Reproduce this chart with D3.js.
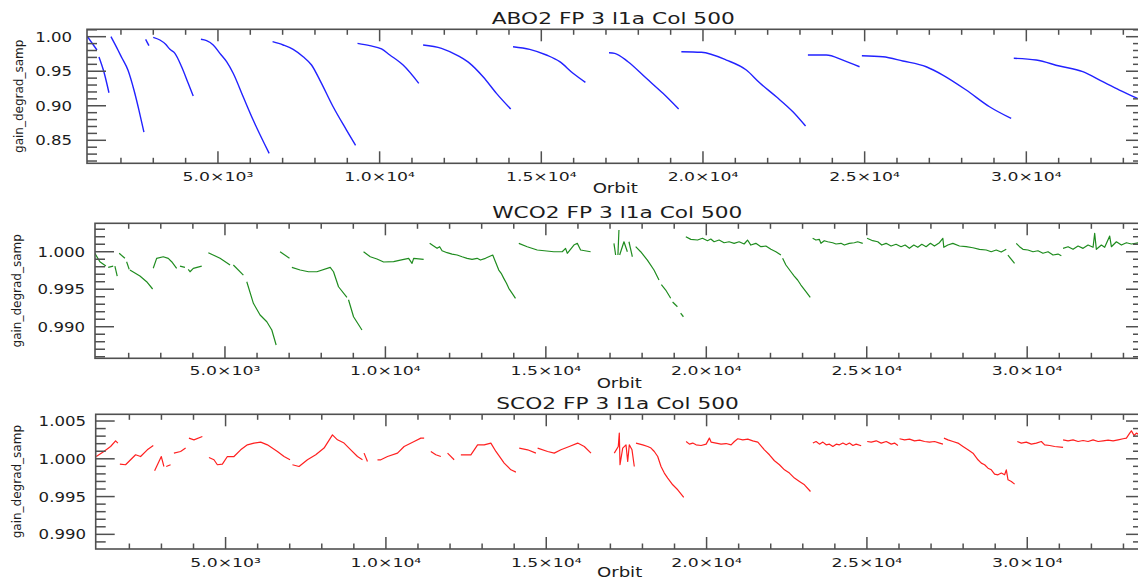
<!DOCTYPE html>
<html>
<head>
<meta charset="utf-8">
<script src="https://cdn.jsdelivr.net/npm/d3@7"></script>
<style>
  html, body { margin: 0; padding: 0; background: #fff; }
  svg { display: block; }
  text { font-family: "DejaVu Sans", sans-serif; fill: #1c1c1c; }
</style>
</head>
<body>
<svg id="chart" width="1138" height="580"></svg>
<script>
// ---- shared orbit axis ----
const orbitDomain = [950, 33500];
const orbitMajorTicks = [5000, 10000, 15000, 20000, 25000, 30000];
const orbitTickLabels = ["5.0×10³", "1.0×10⁴", "1.5×10⁴", "2.0×10⁴", "2.5×10⁴", "3.0×10⁴"];
const orbitMinorTicks = [2000, 3000, 4000, 6000, 7000, 8000, 9000, 11000, 12000, 13000, 14000,
  16000, 17000, 18000, 19000, 21000, 22000, 23000, 24000, 26000, 27000, 28000, 29000,
  31000, 32000, 33000];

const xTitle = "Orbit";
const yTitle = "gain_degrad_samp";

// ---- ABO2 band: each inner array is one continuous run of [orbit, gain] ----
const abo2Segments = [
  [[949, 1.001], [1258, 0.9807]],
  [[1320, 0.9706], [1474, 0.9488], [1629, 0.9188]],
  [[1691, 1.000], [1907, 0.9807], [2031, 0.9691], [2216, 0.9517], [2402, 0.9228], [2556, 0.8938], [2711, 0.8619]],
  [[2763, 0.9962], [2865, 0.987]],
  [[2998, 0.9991], [3205, 0.9952], [3382, 0.989], [3515, 0.9817], [3669, 0.9759], [3876, 0.9565], [4080, 0.9325], [4235, 0.9141]],
  [[4473, 0.9962], [4649, 0.9942], [4853, 0.988], [5060, 0.9759], [5267, 0.9638], [5471, 0.947], [5780, 0.913], [6089, 0.8793], [6584, 0.831]],
  [[6689, 0.9928], [7017, 0.988], [7326, 0.9817], [7635, 0.971], [7894, 0.959], [8151, 0.9372], [8562, 0.8986], [8976, 0.8648], [9254, 0.8428]],
  [[9316, 0.9904], [9696, 0.987], [10058, 0.9822], [10315, 0.9735], [10726, 0.959], [11211, 0.9325]],
  [[11344, 0.988], [11913, 0.9832], [12478, 0.971], [12788, 0.9614], [13199, 0.942], [13613, 0.918], [14055, 0.8952]],
  [[14126, 0.9855], [14642, 0.9817], [15158, 0.9735], [15569, 0.9638], [15981, 0.947], [16364, 0.9339]],
  [[17093, 0.9768], [17269, 0.9759], [17681, 0.9638], [18249, 0.9397], [18762, 0.918], [19248, 0.8952]],
  [[19331, 0.9783], [19949, 0.9774], [20722, 0.9662], [21340, 0.9517], [21751, 0.9333], [22268, 0.913], [22781, 0.8913], [23173, 0.8706]],
  [[23245, 0.9735], [23813, 0.9735], [24327, 0.9662], [24842, 0.9565]],
  [[24914, 0.9725], [25563, 0.971], [26181, 0.9648], [26904, 0.9565], [27417, 0.9445], [28141, 0.9228], [28861, 0.8986], [29531, 0.8817]],
  [[29612, 0.9687], [30304, 0.9662], [31024, 0.9575], [31745, 0.9493], [32363, 0.9348], [32879, 0.9228], [33436, 0.9107]]
];

// ---- WCO2 band ----
const wco2Segments = [
  [[946, 0.99979], [1102, 0.99867], [1289, 0.99809]],
  [[1361, 0.99792], [1517, 0.99809]],
  [[1570, 0.99809], [1642, 0.99676]],
  [[1704, 0.99979], [1882, 0.99912]],
  [[1935, 0.99867], [2016, 0.99765]],
  [[2038, 0.99756], [2350, 0.99676], [2559, 0.996], [2746, 0.99503]],
  [[2765, 0.99779], [2871, 0.99912], [3077, 0.99933], [3233, 0.99912], [3339, 0.99867], [3495, 0.99779]],
  [[3598, 0.99809], [3754, 0.99792]],
  [[3857, 0.99765], [3911, 0.99733], [4014, 0.99779], [4276, 0.99809]],
  [[4482, 0.99987], [4847, 0.99912], [5159, 0.99823]],
  [[5262, 0.99823], [5574, 0.99689]],
  [[5680, 0.996], [5886, 0.99312], [6095, 0.99156], [6304, 0.99067], [6460, 0.98956], [6595, 0.98756]],
  [[6719, 1.0], [7010, 0.99912]],
  [[7085, 0.99792], [7344, 0.99756], [7603, 0.99733], [7865, 0.99733], [8280, 0.99792], [8383, 0.99733], [8539, 0.99533], [8801, 0.99392]],
  [[8850, 0.9936], [9007, 0.99133], [9269, 0.98956]],
  [[9319, 1.0], [9528, 0.99933], [9737, 0.99903], [9944, 0.99863], [10256, 0.99867], [10465, 0.99889], [10724, 0.99912], [10830, 0.99845], [10880, 0.99912], [11192, 0.99899]],
  [[11379, 1.00112], [11504, 1.00076], [11610, 1.00045], [11691, 1.00067], [11766, 1.00013], [11922, 0.99987], [12078, 0.99969], [12234, 0.99956], [12390, 0.99933], [12546, 0.99912], [12702, 0.99899], [12858, 0.99912], [12961, 0.99889], [13117, 0.99912], [13273, 0.99943], [13345, 0.99956], [13429, 0.99867], [13533, 0.99756], [13608, 0.99712], [13689, 0.99645], [13773, 0.99579], [13845, 0.99512], [13951, 0.99445], [14054, 0.99379]],
  [[14157, 1.00112], [14419, 1.00067], [14731, 1.00023], [15249, 1.0], [15511, 1.0], [15614, 1.00045], [15668, 0.99979], [15874, 1.00089], [15980, 1.00112], [16083, 1.00023], [16395, 1.0]],
  [[17122, 1.00112], [17175, 0.99956]],
  [[17246, 0.99956], [17278, 1.00289]],
  [[17300, 0.99956], [17434, 1.00133], [17540, 1.0]],
  [[17590, 1.00133], [17696, 0.99933]],
  [[17799, 1.00067], [17955, 1.0], [18164, 0.99889], [18370, 0.99756], [18526, 0.99623]],
  [[18600, 0.9956], [18735, 0.99489], [18891, 0.99379]],
  [[18950, 0.9933], [19100, 0.99267]],
  [[19200, 0.9918], [19288, 0.99133]],
  [[19362, 1.002], [19518, 1.00165], [19727, 1.00156], [19881, 1.00179], [20037, 1.00147], [20140, 1.00169], [20243, 1.00133], [20399, 1.00156], [20555, 1.0012], [20711, 1.00133], [20867, 1.00112], [21023, 1.00133], [21179, 1.00103], [21285, 1.00156], [21388, 1.00089], [21544, 1.00112], [21701, 1.00067], [21857, 1.00076], [22013, 1.00032], [22169, 1.0], [22325, 0.99956]],
  [[22378, 0.99912], [22481, 0.99823], [22637, 0.99733], [22740, 0.99676], [22846, 0.99623], [22949, 0.99556], [23105, 0.99467], [23240, 0.99392]],
  [[23314, 1.00179], [23416, 1.00156], [23520, 1.00165], [23573, 1.00112], [23676, 1.00147], [23783, 1.00133], [23938, 1.0012], [24042, 1.00103], [24198, 1.00112], [24301, 1.00089], [24456, 1.00112], [24613, 1.0012], [24718, 1.00133], [24875, 1.00112]],
  [[25009, 1.00179], [25186, 1.00147], [25343, 1.00133], [25468, 1.00089], [25602, 1.00112], [25758, 1.00076], [25914, 1.00099], [26070, 1.00067], [26195, 1.00089], [26329, 1.00045], [26467, 1.00089], [26591, 1.00059], [26716, 1.00099], [26850, 1.00067], [26984, 1.00112], [27109, 1.00076], [27265, 1.0012], [27371, 1.00179], [27402, 1.00059], [27527, 1.00089], [27683, 1.00112], [27889, 1.00076], [28098, 1.00067], [28308, 1.00053], [28514, 1.00032], [28723, 1.00023], [28879, 1.0], [29035, 1.00023], [29191, 0.99996], [29347, 1.00032]],
  [[29400, 0.99956], [29606, 0.99845]],
  [[29659, 1.00112], [29762, 1.00067], [29868, 1.00032], [30024, 1.00023], [30180, 1.0], [30336, 1.00013], [30492, 0.99979], [30649, 1.0], [30805, 0.99956], [30961, 0.99969], [31064, 0.99947]],
  [[31117, 1.00045], [31273, 1.00067], [31429, 1.00032], [31585, 1.00076], [31741, 1.00045], [31897, 1.00089], [32053, 1.00059], [32103, 1.00245], [32156, 1.00032], [32312, 1.00089], [32415, 1.00059], [32571, 1.00209], [32624, 1.00067], [32780, 1.00133], [32936, 1.00089], [33092, 1.0012], [33248, 1.00103], [33498, 1.0012]]
];

// ---- SCO2 band ----
const sco2Segments = [
  [[968, 1.0003], [1205, 1.00097], [1414, 1.00163], [1570, 1.00238], [1642, 1.00208]],
  [[1704, 0.9993], [1882, 0.99921], [2038, 0.99987], [2194, 1.00053], [2350, 1.0003], [2559, 1.00119], [2746, 1.00176]],
  [[2787, 0.99841], [2996, 1.0003], [3077, 0.99898]],
  [[3150, 0.99898], [3286, 0.99921]],
  [[3389, 1.00075], [3598, 1.00097], [3754, 1.00142]],
  [[3857, 1.00274], [4014, 1.00251], [4276, 1.00295]],
  [[4482, 1.00017], [4638, 0.99987], [4744, 0.99921], [4900, 0.9993], [5056, 1.0003], [5262, 1.0003], [5471, 1.00119], [5680, 1.00185], [5886, 1.00208], [6095, 1.00221], [6304, 1.00185], [6617, 1.00097], [6823, 1.0003], [7010, 0.99987]],
  [[7085, 0.99921], [7291, 0.99898], [7553, 0.99987], [7812, 1.00053], [8071, 1.00142], [8333, 1.00317], [8489, 1.00251], [8695, 1.00208], [8904, 1.00119], [9113, 1.0003], [9269, 0.99987]],
  [[9319, 1.00075], [9425, 0.99964]],
  [[9737, 0.99987], [9841, 0.99987], [10050, 1.0003], [10362, 1.00075], [10568, 1.00163], [10880, 1.00229], [11089, 1.00274], [11192, 1.00274]],
  [[11401, 1.00097], [11557, 1.00053], [11713, 1.0003]],
  [[11922, 1.00075], [12128, 0.99987]],
  [[12337, 1.00053], [12649, 1.00053], [12859, 1.00185], [13064, 1.00185], [13273, 1.00208], [13430, 1.00097], [13689, 0.99943], [13898, 0.99854], [14054, 0.99824]],
  [[14157, 1.00142], [14419, 1.00119], [14678, 1.00075]],
  [[14731, 1.00142], [15043, 1.00097], [15249, 1.00075], [15458, 1.00119], [15718, 1.00163], [15980, 1.00208], [16186, 1.00163], [16395, 1.00075]],
  [[17122, 1.00075], [17246, 1.00163], [17278, 1.0034], [17300, 0.99921], [17384, 1.00142], [17487, 1.00185], [17540, 0.99964], [17590, 1.00185], [17674, 1.00119], [17746, 0.99898]],
  [[17799, 1.00208], [18008, 1.00185], [18164, 1.00163], [18267, 1.00142], [18370, 1.00097], [18476, 1.0003], [18579, 0.99898], [18682, 0.99811], [18788, 0.99745], [18944, 0.99656], [19100, 0.9959], [19288, 0.99488]],
  [[19362, 1.00229], [19465, 1.00194], [19569, 1.00208], [19672, 1.00185], [19830, 1.00176], [19986, 1.00194], [20087, 1.00274], [20140, 1.00221], [20296, 1.00208], [20452, 1.00194], [20608, 1.00202], [20764, 1.00185], [20867, 1.00229], [20973, 1.00265], [21129, 1.00251], [21285, 1.00261], [21441, 1.00238], [21598, 1.00221], [21803, 1.00119], [21959, 1.00053], [22116, 0.99974], [22272, 0.99921], [22428, 0.99854], [22584, 0.99811], [22740, 0.99745], [22896, 0.997], [23052, 0.99656], [23240, 0.99567]],
  [[23314, 1.00208], [23416, 1.00229], [23520, 1.00194], [23626, 1.00221], [23729, 1.00185], [23832, 1.00194], [23938, 1.00163], [24042, 1.00194], [24145, 1.00185], [24250, 1.00208], [24353, 1.00185], [24456, 1.00208], [24562, 1.00176], [24665, 1.00194], [24821, 1.00172]],
  [[25009, 1.00229], [25134, 1.00221], [25290, 1.00238], [25446, 1.00208], [25602, 1.00229], [25758, 1.00194], [25861, 1.00208], [25967, 1.00176]],
  [[26017, 1.00265], [26173, 1.00251], [26329, 1.00261], [26485, 1.00238], [26641, 1.00247], [26797, 1.00229], [26953, 1.00221], [27109, 1.00229], [27265, 1.00208], [27371, 1.00194]],
  [[27402, 1.00274], [27527, 1.00251], [27683, 1.00229], [27839, 1.00208], [27995, 1.00163], [28151, 1.00119], [28308, 1.00075], [28463, 0.99987], [28567, 0.99943], [28670, 0.99921], [28776, 0.99876], [28879, 0.99854], [28981, 0.99798], [29087, 0.99788], [29191, 0.99811], [29294, 0.99788], [29347, 0.99854], [29400, 0.99722], [29503, 0.997], [29606, 0.99665]],
  [[29690, 1.00229], [29815, 1.00208], [29971, 1.00221], [30127, 1.00194], [30283, 1.00208], [30439, 1.00229], [30542, 1.00185], [30698, 1.00176], [30854, 1.00163], [31117, 1.0015]],
  [[31117, 1.00251], [31273, 1.00238], [31429, 1.00251], [31585, 1.00229], [31741, 1.00242], [31897, 1.00229], [32053, 1.00251], [32209, 1.00229], [32365, 1.00238], [32521, 1.00247], [32677, 1.00238], [32833, 1.00251], [32989, 1.00265], [33092, 1.00274], [33195, 1.0034], [33248, 1.0037], [33332, 1.00308], [33404, 1.0034], [33498, 1.00317]]
];

// ---- per-band gain axes ----
const abo2GainDomain = [0.8167, 1.0107];
const abo2GainTicks = [0.85, 0.90, 0.95, 1.00];
const abo2GainLabels = ["0.85", "0.90", "0.95", "1.00"];
const abo2GainMinor = [0.82, 0.83, 0.84, 0.86, 0.87, 0.88, 0.89, 0.91, 0.92, 0.93, 0.94, 0.96, 0.97, 0.98, 0.99, 1.01];

const wco2GainDomain = [0.98579, 1.00379];
const wco2GainTicks = [0.990, 0.995, 1.000];
const wco2GainLabels = ["0.990", "0.995", "1.000"];
const wco2GainMinor = [0.986, 0.987, 0.988, 0.989, 0.991, 0.992, 0.993, 0.994, 0.996, 0.997, 0.998, 0.999, 1.001, 1.002, 1.003];

const sco2GainDomain = [0.98806, 1.00589];
const sco2GainTicks = [0.990, 0.995, 1.000, 1.005];
const sco2GainLabels = ["0.990", "0.995", "1.000", "1.005"];
const sco2GainMinor = [0.989, 0.991, 0.992, 0.993, 0.994, 0.996, 0.997, 0.998, 0.999, 1.001, 1.002, 1.003, 1.004];

// ---- panel layout ----
const panels = [
  { title: "ABO2 FP 3 l1a Col 500", segments: abo2Segments, color: "#2222ff", smooth: true,
    gainDomain: abo2GainDomain, gainTicks: abo2GainTicks, gainLabels: abo2GainLabels, gainMinor: abo2GainMinor,
    left: 87, top: 29.3, right: 1139.5, bottom: 163.3,
    titleY: 24, tickLabelY: 180.5, xTitleY: 193, yTitleX: 23, yLabelRight: 72 },
  { title: "WCO2 FP 3 l1a Col 500", segments: wco2Segments, color: "#1f8c1f", smooth: false,
    gainDomain: wco2GainDomain, gainTicks: wco2GainTicks, gainLabels: wco2GainLabels, gainMinor: wco2GainMinor,
    left: 95, top: 223.3, right: 1139.5, bottom: 358.3,
    titleY: 218, tickLabelY: 375, xTitleY: 388, yTitleX: 20.5, yLabelRight: 85 },
  { title: "SCO2 FP 3 l1a Col 500", segments: sco2Segments, color: "#ff2020", smooth: false,
    gainDomain: sco2GainDomain, gainTicks: sco2GainTicks, gainLabels: sco2GainLabels, gainMinor: sco2GainMinor,
    left: 95.7, top: 414.3, right: 1139.5, bottom: 549,
    titleY: 409, tickLabelY: 567, xTitleY: 577.3, yTitleX: 21, yLabelRight: 86 }
];

const svg = d3.select("#chart");
const axisColor = "#505050";

// horizontally widened text, matching the wide face of the plot labels
function wideText(g, x, y, str, size, sx, anchor) {
  return g.append("text")
    .attr("transform", `translate(${x},${y}) scale(${sx},1)`)
    .attr("text-anchor", anchor)
    .style("font-size", size + "px")
    .text(str);
}

panels.forEach(p => {
  const g = svg.append("g");
  const x = d3.scaleLinear().domain(orbitDomain).range([p.left, p.right]);
  const y = d3.scaleLinear().domain(p.gainDomain).range([p.bottom, p.top]);

  // data runs, clipped to the frame
  const clipId = "clip-" + p.title.slice(0, 4);
  svg.append("clipPath").attr("id", clipId)
    .append("rect").attr("x", p.left).attr("y", p.top)
    .attr("width", p.right - p.left).attr("height", p.bottom - p.top);

  const line = d3.line().x(d => x(d[0])).y(d => y(d[1]))
    .curve(p.smooth ? d3.curveMonotoneX : d3.curveLinear);
  g.append("g").attr("clip-path", `url(#${clipId})`)
    .selectAll("path").data(p.segments).join("path")
    .attr("d", line)
    .attr("fill", "none")
    .attr("stroke", p.color)
    .attr("stroke-width", p.smooth ? 1.4 : 1.2)
    .attr("stroke-linejoin", "round");

  // frame
  g.append("rect").attr("x", p.left).attr("y", p.top)
    .attr("width", p.right - p.left).attr("height", p.bottom - p.top)
    .attr("fill", "none").attr("stroke", axisColor).attr("stroke-width", 1.6);

  const ticks = g.append("g").attr("stroke", axisColor).attr("stroke-width", 1.5);
  // orbit ticks on bottom and top, pointing inward
  orbitMajorTicks.forEach(t => {
    ticks.append("line").attr("x1", x(t)).attr("x2", x(t)).attr("y1", p.bottom).attr("y2", p.bottom - 12);
    ticks.append("line").attr("x1", x(t)).attr("x2", x(t)).attr("y1", p.top).attr("y2", p.top + 12);
  });
  orbitMinorTicks.forEach(t => {
    ticks.append("line").attr("x1", x(t)).attr("x2", x(t)).attr("y1", p.bottom).attr("y2", p.bottom - 5.5);
    ticks.append("line").attr("x1", x(t)).attr("x2", x(t)).attr("y1", p.top).attr("y2", p.top + 5.5);
  });
  // gain ticks on left and right, pointing inward
  p.gainTicks.forEach(t => {
    ticks.append("line").attr("x1", p.left).attr("x2", p.left + 19).attr("y1", y(t)).attr("y2", y(t));
    ticks.append("line").attr("x1", p.right).attr("x2", p.right - 13.5).attr("y1", y(t)).attr("y2", y(t));
  });
  p.gainMinor.forEach(t => {
    ticks.append("line").attr("x1", p.left).attr("x2", p.left + 10).attr("y1", y(t)).attr("y2", y(t));
    ticks.append("line").attr("x1", p.right).attr("x2", p.right - 6.5).attr("y1", y(t)).attr("y2", y(t));
  });

  // tick labels
  orbitMajorTicks.forEach((t, i) => {
    wideText(g, x(t), p.tickLabelY, orbitTickLabels[i], 12.5, 1.38, "middle");
  });
  p.gainTicks.forEach((t, i) => {
    wideText(g, p.yLabelRight, y(t) + 5, p.gainLabels[i], 13.8, 1.2, "end");
  });

  // titles
  wideText(g, (p.left + p.right) / 2, p.titleY, p.title, 15.5, 1.4, "middle");
  wideText(g, (p.left + p.right) / 2 + 2, p.xTitleY, xTitle, 13.3, 1.36, "middle");
  g.append("text")
    .attr("transform", `translate(${p.yTitleX},${(p.top + p.bottom) / 2}) rotate(-90)`)
    .attr("text-anchor", "middle")
    .style("font-size", "12px")
    .text(yTitle);
});
</script>
</body>
</html>
